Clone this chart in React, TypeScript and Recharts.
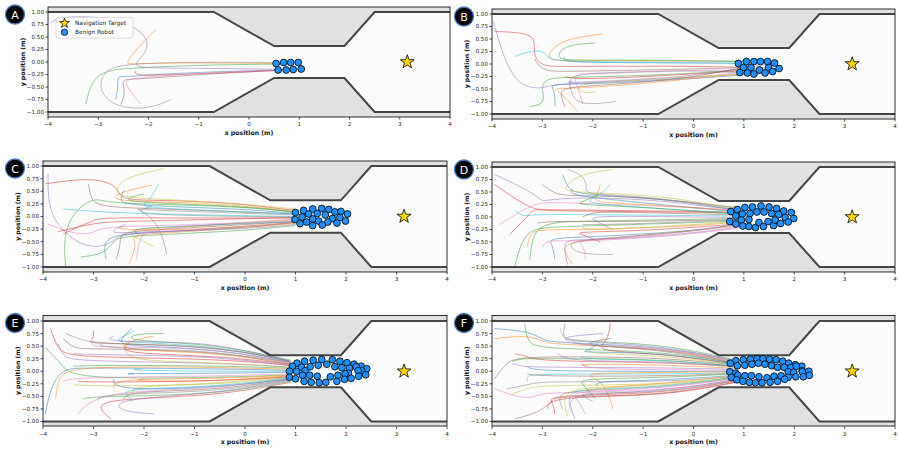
import React from "react";
import { ComposedChart, Area, Line, Scatter, XAxis, YAxis, CartesianGrid } from "recharts";

const tab10 = [
  "#1f77b4", "#ff7f0e", "#2ca02c", "#d62728", "#9467bd",
  "#8c564b", "#e377c2", "#7f7f7f", "#bcbd22", "#17becf",
];

// upper wall of the corridor; the lower wall is its mirror image
const wallX = [-4, -0.7, 0.5, 1.9, 2.5, 4];
const wallY = [1, 1, 0.32, 0.32, 1, 1];

const xTicks = [-4, -3, -2, -1, 0, 1, 2, 3, 4];
const yTicks = [-1, -0.75, -0.5, -0.25, 0, 0.25, 0.5, 0.75, 1];

const target = [3.15, 0];

// robot paths, flat x,y pairs
const trajA = [
  [-2.65, -0.75, -2.6, -0.45, -2.62, -0.28, -2.45, -0.3, -1.5, -0.22, 0.58, -0.16],
  [-1.85, 0.65, -2.2, 0.3, -2.45, -0.02, -2.4, -0.05, -1.5, -0.01, 0.54, -0.03],
  [-3.25, -0.85, -3.15, -0.45, -3.0, -0.25, -2.7, -0.15, -2.3, -0.12, -1.0, -0.06, 0.69, -0.04],
  [-2.25, -0.18, -2.3, -0.27, -1.5, -0.26, 0.74, -0.16],
  [-3.95, 0.78, -3.8, 0.9, -3.1, 0.92, -2.4, 0.8, -1.95, 0.45, -2.1, 0.1, -2.4, -0.12, -1.5, -0.12, 0.88, -0.15],
  [-2.55, -0.85, -2.45, -0.6, -2.55, -0.35, -2.35, -0.35, -1.0, -0.25, 0.72, -0.16],
  [-2.15, -0.85, -2.35, -0.6, -2.5, -0.38, -2.3, -0.32, -1.0, -0.22, 1.02, -0.14],
  [-1.55, -0.75, -2.0, -0.95, -2.7, -0.9, -3.0, -0.55, -2.9, -0.2, -2.6, -0.05, -1.5, 0.0, 0.83, -0.01],
];

const trajB = [
  [-2.55, 0.15, -2.6, 0.05, -2.0, 0.03, 0.0, 0.02, 0.89, 0.01],
  [-1.8, 0.6, -2.6, 0.5, -2.9, 0.2, -2.85, 0.05, -2.0, 0.07, 0.0, 0.06, 1.05, 0.05],
  [-1.95, 0.42, -2.6, 0.38, -2.75, 0.08, -2.3, 0.08, 0.0, 0.07, 1.2, 0.05],
  [-3.95, 0.65, -3.1, 0.62, -3.2, 0.25, -3.05, -0.05, -2.6, -0.05, 0.0, -0.04, 0.99, -0.07],
  [-3.97, 0.85, -3.75, 0.05, -3.45, -0.45, -3.0, -0.5, -2.8, -0.4, -1.5, -0.35, 0.0, -0.28, 0.92, -0.17],
  [-3.15, 0.1, -3.0, -0.15, -2.5, -0.15, 0.0, -0.1, 1.14, -0.07],
  [-2.2, -0.8, -2.3, -0.45, -2.4, -0.2, -2.0, -0.18, 0.0, -0.12, 1.31, -0.12],
  [-1.55, -0.75, -2.35, -0.85, -2.45, -0.45, -2.5, -0.2, -1.5, -0.18, 0.0, -0.12, 1.07, -0.18],
  [-1.95, -0.55, -2.2, -0.6, -2.4, -0.4, -1.5, -0.35, 0.0, -0.25, 1.2, -0.2],
  [-3.55, 0.15, -3.2, 0.28, -2.95, 0.25, -2.9, 0.1, -2.5, 0.04, 0.0, 0.03, 1.33, 0.05],
  [-2.75, -0.85, -2.75, -0.5, -2.9, -0.4, -2.0, -0.4, 0.0, -0.3, 1.42, -0.18],
  [-2.3, -0.95, -2.6, -0.6, -2.8, -0.47, -2.5, -0.5, -1.0, -0.4, 0.3, -0.25, 1.57, -0.15],
  [-3.25, -0.85, -2.95, -0.8, -3.0, -0.55, -3.0, -0.27, -2.3, -0.27, 0.0, -0.2, 1.49, -0.07],
  [-2.55, -0.25, -2.4, -0.3, -1.5, -0.28, 0.0, -0.2, 1.7, -0.09],
  [-2.4, -0.35, -2.6, -0.38, -1.5, -0.33, 0.0, -0.25, 1.61, 0.02],
  [-2.55, -0.85, -2.7, -0.5, -2.3, -0.45, 0.0, -0.3, 1.47, 0.05],
];

const trajC = [
  [-2.75, -0.85, -2.8, -0.6, -2.7, -0.35, -1.5, -0.3, 0.0, -0.22, 1.0, -0.12],
  [-1.85, 0.62, -2.4, 0.5, -2.6, 0.4, -2.55, 0.3, -1.0, 0.28, 0.3, 0.18, 1.0, 0.1],
  [-3.55, -1.0, -3.6, -0.4, -3.4, 0.1, -3.0, 0.37, -2.8, 0.3, -2.3, 0.25, 0.0, 0.2, 1.0, 0.08],
  [-3.95, 0.65, -3.0, 0.78, -2.5, 0.6, -2.5, 0.35, -2.0, 0.32, -0.5, 0.3, 1.0, 0.12],
  [-3.9, 0.85, -3.9, 0.2, -3.7, -0.2, -3.3, -0.55, -2.9, -0.62, -2.6, -0.5, -2.5, -0.35, -1.5, -0.3, 1.0, -0.12],
  [-3.1, 0.65, -3.05, 0.35, -2.9, 0.18, -1.5, 0.15, 1.0, 0.05],
  [-3.9, -0.15, -3.4, -0.35, -3.0, -0.35, -2.9, -0.2, -1.5, -0.18, 1.0, -0.08],
  [-1.55, -0.75, -1.65, -0.3, -1.9, 0.05, -2.2, 0.15, -2.0, 0.13, 1.0, 0.03],
  [-1.6, 0.95, -2.3, 0.8, -2.55, 0.6, -2.55, 0.4, -2.0, 0.36, 0.0, 0.25, 1.0, 0.15],
  [-1.7, 0.65, -1.9, 0.3, -2.1, 0.2, -1.5, 0.15, 1.0, 0.05],
  [-2.4, 0.52, -2.5, 0.3, -2.3, 0.22, 0.0, 0.15, 1.0, 0.06],
  [-2.3, -0.95, -2.2, -0.7, -2.15, -0.5, -2.3, -0.35, -1.0, -0.3, 1.0, -0.14],
  [-3.25, -0.8, -2.8, -0.75, -2.6, -0.5, -2.5, -0.4, -1.5, -0.35, 0.0, -0.28, 1.0, -0.18],
  [-3.6, -0.35, -3.2, -0.15, -3.0, -0.1, -2.95, -0.02, -1.5, -0.03, 1.0, -0.03],
  [-2.35, -0.15, -2.8, -0.35, -2.0, -0.3, 0.0, -0.25, 1.0, -0.16],
  [-2.55, -0.85, -2.45, -0.5, -2.5, -0.3, -1.5, -0.25, 1.0, -0.1],
  [-2.15, -0.85, -2.1, -0.5, -2.0, -0.3, -1.5, -0.22, 1.0, -0.05],
  [-1.85, 0.2, -2.2, 0.1, -1.7, 0.02, 1.0, -0.01],
  [-1.8, -0.6, -2.2, -0.4, -2.4, -0.25, -1.0, -0.2, 1.0, -0.06],
  [-3.6, 0.15, -3.0, 0.1, -2.0, 0.05, 1.0, 0.0],
  [-2.1, -0.35, -2.3, -0.25, -1.5, -0.2, 1.0, -0.1],
  [-2.45, -0.2, -2.6, -0.25, -1.5, -0.28, 0.0, -0.2, 1.0, -0.12],
  [-2.0, 0.45, -2.4, 0.35, -2.2, 0.28, 0.0, 0.2, 1.0, 0.09],
  [-3.7, -0.3, -2.95, -0.12, -2.5, -0.1, 1.0, -0.02],
];

const trajD = [
  [-2.6, 0.85, -2.5, 0.6, -2.35, 0.45, -1.0, 0.4, 0.2, 0.25, 0.9, 0.12],
  [-3.3, -0.6, -3.25, -0.3, -3.0, -0.25, -2.0, -0.25, 0.0, -0.18, 0.9, -0.1],
  [-3.55, -1.0, -3.45, -0.6, -3.3, -0.3, -3.0, -0.2, -2.0, -0.18, 0.9, -0.08],
  [-3.95, 0.65, -3.3, 0.2, -3.0, 0.12, -2.0, 0.12, 0.9, 0.08],
  [-3.95, 0.85, -3.2, 0.5, -3.0, 0.3, -2.9, 0.35, -2.0, 0.4, -0.5, 0.32, 0.3, 0.2, 0.9, 0.15],
  [-3.0, 0.65, -2.8, 0.5, -2.6, 0.42, -1.5, 0.42, 0.0, 0.3, 0.9, 0.18],
  [-3.85, -0.15, -3.3, 0.2, -3.0, 0.3, -2.5, 0.28, 0.0, 0.2, 0.9, 0.12],
  [-2.5, 0.95, -2.2, 0.85, -2.1, 0.6, -2.2, 0.45, -1.0, 0.42, 0.2, 0.25, 0.9, 0.16],
  [-1.6, 0.95, -2.3, 0.85, -2.55, 0.6, -2.55, 0.5, -1.5, 0.47, -0.3, 0.38, 0.4, 0.22, 0.9, 0.2],
  [-3.55, 0.15, -3.4, 0.0, -3.2, 0.05, -2.5, 0.05, 0.9, 0.02],
  [-2.75, -0.85, -2.8, -0.55, -2.9, -0.42, -2.0, -0.4, 0.0, -0.28, 0.9, -0.15],
  [-2.4, -0.95, -2.6, -0.65, -2.5, -0.5, -1.5, -0.42, 0.2, -0.25, 0.9, -0.18],
  [-3.25, -0.85, -3.2, -0.4, -3.0, -0.1, -2.0, -0.08, 0.9, -0.03],
  [-3.65, -0.35, -3.3, 0.0, -3.2, 0.15, -3.0, 0.15, 0.9, 0.1],
  [-1.6, -0.25, -1.9, -0.1, -2.1, 0.0, -1.5, 0.02, 0.9, -0.01],
  [-2.2, 0.0, -2.0, 0.1, -1.5, 0.1, 0.9, 0.04],
  [-2.15, -0.85, -2.15, -0.6, -2.4, -0.45, -1.0, -0.4, 0.2, -0.25, 0.9, -0.16],
  [-1.6, -0.75, -2.3, -0.75, -2.5, -0.55, -2.3, -0.45, 0.0, -0.3, 0.9, -0.12],
  [-2.2, -0.2, -2.2, -0.25, -1.5, -0.25, 0.9, -0.09],
  [-1.65, 0.65, -1.9, 0.4, -2.2, 0.3, -1.5, 0.22, 0.9, 0.07],
  [-2.4, 0.55, -2.5, 0.45, -1.5, 0.33, 0.9, 0.1],
  [-1.85, 0.65, -1.9, 0.45, -2.0, 0.3, -1.5, 0.28, 0.9, 0.13],
  [-1.9, 0.45, -2.2, 0.3, -2.4, 0.25, -1.0, 0.2, 0.9, 0.05],
  [-1.85, -0.5, -2.2, -0.35, -2.4, -0.3, -1.0, -0.28, 0.9, -0.14],
  [-2.5, -0.95, -2.6, -0.5, -2.4, -0.45, -1.5, -0.45, 0.2, -0.3, 0.9, -0.2],
  [-3.1, -0.12, -2.8, -0.08, -1.5, -0.1, 0.9, -0.05],
  [-3.0, -0.6, -2.9, -0.45, -2.5, -0.5, -0.5, -0.4, 0.9, -0.22],
  [-2.2, -0.15, -1.5, -0.15, 0.9, -0.06],
];

const trajE = [
  [-3.95, -0.85, -3.85, -0.3, -3.6, 0.05, -3.3, 0.07, -0.6, 0.05, 0.9, 0.02],
  [-3.75, -0.55, -3.7, -0.1, -3.4, 0.1, -0.6, 0.08, 0.9, 0.04],
  [-3.95, 0.47, -3.6, 0.1, -3.4, -0.15, -0.6, -0.13, 0.9, -0.07],
  [-3.85, 0.85, -3.7, 0.4, -3.4, 0.28, -0.6, 0.25, 0.9, 0.12],
  [-3.7, 0.55, -3.6, 0.3, -3.4, 0.2, -0.6, 0.17, 0.9, 0.08],
  [-3.6, 0.65, -3.4, 0.45, -3.1, 0.45, -0.6, 0.4, 0.9, 0.17],
  [-3.6, -0.2, -3.4, -0.12, -0.6, -0.1, 0.9, -0.05],
  [-3.55, 0.75, -3.3, 0.65, -3.0, 0.55, -0.6, 0.5, 0.9, 0.2],
  [-3.4, -0.25, -3.3, -0.3, -0.6, -0.28, 0.9, -0.12],
  [-2.2, 0.8, -2.5, 0.65, -2.6, 0.58, -0.6, 0.52, 0.9, 0.2],
  [-2.25, 0.85, -2.5, 0.6, -2.4, 0.5, -0.6, 0.45, 0.9, 0.18],
  [-1.8, 0.7, -2.3, 0.6, -2.6, 0.42, -0.6, 0.38, 0.9, 0.15],
  [-1.6, 0.75, -2.2, 0.75, -2.4, 0.6, -0.6, 0.55, 0.9, 0.22],
  [-2.3, 0.55, -2.45, 0.45, -2.2, 0.35, -0.5, 0.3, 0.9, 0.14],
  [-2.6, 0.7, -2.8, 0.6, -1.5, 0.58, -0.6, 0.55, 0.9, 0.21],
  [-3.0, 0.8, -3.0, 0.6, -3.2, 0.55, -0.6, 0.52, 0.9, 0.19],
  [-3.0, 0.6, -3.1, 0.5, -2.5, 0.48, -0.6, 0.46, 0.9, 0.16],
  [-2.85, 0.55, -2.9, 0.48, -1.5, 0.42, -0.6, 0.4, 0.9, 0.13],
  [-2.3, 0.6, -2.5, 0.2, -0.6, 0.18, 0.9, 0.08],
  [-2.05, 0.05, -2.4, 0.02, -0.6, 0.0, 0.9, 0.0],
  [-2.2, -0.05, -2.5, -0.05, -0.6, -0.04, 0.9, -0.02],
  [-2.6, -0.35, -2.6, -0.15, -0.6, -0.15, 0.9, -0.08],
  [-3.2, -0.55, -3.0, -0.5, -0.6, -0.47, 0.9, -0.2],
  [-2.65, -0.95, -2.9, -0.75, -2.8, -0.55, -0.6, -0.5, 0.9, -0.22],
  [-1.8, -0.85, -2.5, -0.8, -2.6, -0.55, -0.6, -0.45, 0.9, -0.18],
  [-2.4, -0.55, -2.3, -0.4, -0.6, -0.38, 0.9, -0.16],
  [-3.3, -0.85, -3.2, -0.7, -2.7, -0.4, -0.6, -0.35, 0.9, -0.14],
  [-2.9, -0.6, -2.95, -0.45, -0.6, -0.42, 0.9, -0.17],
  [-2.2, -0.45, -2.3, -0.3, -0.6, -0.25, 0.9, -0.1],
  [-2.2, -0.6, -2.4, -0.45, -2.3, -0.35, -0.5, -0.3, 0.9, -0.13],
  [-2.6, -0.15, -2.6, -0.38, -0.6, -0.33, 0.9, -0.15],
  [-2.0, -0.15, -2.3, -0.2, -0.6, -0.2, 0.9, -0.09],
  [-3.4, 0.1, -3.0, 0.12, -0.6, 0.11, 0.9, 0.06],
  [-3.3, -0.2, -3.0, -0.22, -0.6, -0.2, 0.9, -0.11],
  [-3.4, 0.35, -3.0, 0.33, -0.6, 0.3, 0.9, 0.11],
];

const trajF = [
  [-3.95, 0.85, -3.3, 0.8, -3.0, 0.65, -2.9, 0.57, -0.6, 0.5, 0.85, 0.2],
  [-3.95, 0.65, -3.3, 0.72, -3.0, 0.6, -2.8, 0.53, -0.6, 0.47, 0.85, 0.18],
  [-3.35, 0.95, -3.3, 0.55, -3.0, 0.45, -0.6, 0.4, 0.85, 0.16],
  [-3.55, 0.35, -3.3, 0.3, -3.1, 0.2, -0.6, 0.18, 0.85, 0.1],
  [-3.6, 0.15, -3.4, 0.1, -3.2, 0.08, -0.6, 0.07, 0.85, 0.04],
  [-3.95, -0.15, -3.7, 0.2, -3.4, 0.3, -0.6, 0.28, 0.85, 0.12],
  [-3.95, -0.35, -3.4, -0.55, -3.1, -0.5, -3.0, -0.42, -0.6, -0.4, 0.85, -0.17],
  [-3.7, -0.35, -3.2, -0.25, -3.0, -0.2, -0.6, -0.22, 0.85, -0.1],
  [-3.6, -0.45, -3.3, -0.35, -3.1, -0.28, -0.6, -0.27, 0.85, -0.12],
  [-3.3, -0.2, -3.3, -0.1, -3.2, -0.05, -0.6, -0.06, 0.85, -0.03],
  [-3.3, 0.1, -3.2, 0.0, -0.6, 0.0, 0.85, 0.0],
  [-1.6, -0.75, -1.7, -0.4, -1.9, -0.15, -2.2, -0.05, -1.5, -0.03, 0.85, -0.01],
  [-2.55, 0.95, -2.6, 0.7, -2.5, 0.6, -0.6, 0.55, 0.85, 0.22],
  [-1.65, 0.95, -1.7, 0.6, -2.0, 0.4, -0.6, 0.35, 0.85, 0.14],
  [-1.8, 0.75, -2.5, 0.7, -2.7, 0.6, -0.6, 0.52, 0.85, 0.2],
  [-1.65, 0.65, -2.0, 0.6, -2.2, 0.5, -0.6, 0.45, 0.85, 0.17],
  [-2.65, 0.85, -2.55, 0.6, -2.3, 0.52, -0.6, 0.48, 0.85, 0.19],
  [-2.4, 0.6, -2.3, 0.52, -0.6, 0.43, 0.85, 0.15],
  [-2.0, 0.45, -2.2, 0.35, -0.6, 0.32, 0.85, 0.13],
  [-2.2, 0.3, -2.3, 0.25, -0.6, 0.22, 0.85, 0.11],
  [-1.9, 0.55, -2.1, 0.4, -2.3, 0.38, -0.6, 0.37, 0.85, 0.14],
  [-2.1, 0.1, -2.4, 0.15, -0.6, 0.13, 0.85, 0.06],
  [-1.95, -0.55, -2.2, -0.25, -2.3, -0.15, -0.6, -0.13, 0.85, -0.05],
  [-2.75, -0.85, -2.8, -0.6, -2.9, -0.48, -0.6, -0.45, 0.85, -0.19],
  [-2.35, -0.95, -2.5, -0.6, -2.3, -0.45, -0.6, -0.4, 0.85, -0.16],
  [-3.55, -0.95, -3.0, -0.8, -2.8, -0.55, -2.6, -0.5, -0.6, -0.48, 0.85, -0.21],
  [-2.15, -0.85, -2.3, -0.55, -2.5, -0.4, -0.6, -0.35, 0.85, -0.14],
  [-2.6, -0.75, -2.7, -0.5, -2.5, -0.38, -0.6, -0.33, 0.85, -0.13],
  [-2.5, -0.9, -2.6, -0.55, -2.4, -0.3, -0.6, -0.3, 0.85, -0.12],
  [-2.45, -0.75, -2.5, -0.45, -2.2, -0.35, -0.6, -0.32, 0.85, -0.11],
  [-1.9, -0.3, -2.0, -0.2, -0.6, -0.18, 0.85, -0.08],
  [-2.1, -0.45, -2.2, -0.35, -0.6, -0.25, 0.85, -0.09],
  [-3.6, 0.2, -3.4, 0.25, -3.2, 0.25, -0.6, 0.25, 0.85, 0.09],
  [-2.9, -0.75, -2.85, -0.5, -0.6, -0.5, 0.85, -0.22],
  [-2.7, 0.35, -2.5, 0.2, -0.6, 0.2, 0.85, 0.08],
  [-3.3, -0.05, -3.1, -0.1, -0.6, -0.1, 0.85, -0.04],
  [-2.2, 0.2, -2.3, 0.05, -0.6, 0.03, 0.85, 0.02],
  [-2.0, -0.6, -2.2, -0.5, -2.3, -0.43, -0.6, -0.43, 0.85, -0.18],
];

// final robot positions
const robotsA = [
  [0.54, -0.03], [0.69, -0.01], [0.83, -0.01], [0.98, -0.01],
  [0.58, -0.16], [0.74, -0.16], [0.88, -0.15], [1.04, -0.14],
];

const robotsB = [
  [0.89, 0.01], [1.05, 0.05], [1.2, 0.05], [1.33, 0.05], [1.47, 0.05], [1.61, 0.02],
  [0.99, -0.07], [1.14, -0.07], [1.31, -0.12], [1.49, -0.07], [1.7, -0.09],
  [0.92, -0.17], [1.07, -0.18], [1.2, -0.2], [1.42, -0.18], [1.57, -0.15],
];

const robotsC = [
  [1.0, 0.08], [1.16, 0.12], [1.34, 0.15], [1.52, 0.16], [1.66, 0.14], [1.78, 0.09], [1.9, 0.1], [2.03, 0.05],
  [0.99, -0.06], [1.13, -0.01], [1.26, 0.05], [1.43, 0.06], [1.59, 0.03], [1.73, -0.04], [1.88, -0.02], [1.99, -0.09],
  [1.09, -0.14], [1.22, -0.11], [1.34, -0.05], [1.46, -0.09], [1.64, -0.11], [1.82, -0.13], [1.34, -0.18], [1.53, -0.17],
];

const robotsD = [
  [0.74, 0.11], [0.87, 0.15], [1.02, 0.19], [1.17, 0.2], [1.34, 0.22], [1.5, 0.2], [1.65, 0.17], [1.79, 0.12], [1.94, 0.09],
  [0.84, 0.02], [0.97, 0.06], [1.12, 0.07], [1.26, 0.1], [1.4, 0.1], [1.55, 0.07], [1.69, 0.05], [1.82, -0.01], [1.99, -0.03],
  [0.72, -0.09], [0.84, -0.14], [0.95, -0.06], [0.98, -0.18], [1.1, -0.05], [1.1, -0.19], [1.23, -0.21], [1.3, -0.11],
  [1.39, -0.19], [1.48, -0.09], [1.59, -0.17], [1.62, -0.06], [1.73, -0.13], [1.88, -0.1],
];

const robotsE = [
  [1.03, 0.16], [1.18, 0.2], [1.35, 0.22], [1.52, 0.235], [1.73, 0.23], [1.88, 0.2], [2.02, 0.17], [2.16, 0.14], [2.3, 0.1], [2.41, 0.05],
  [0.94, 0.1], [1.12, 0.08], [1.29, 0.09], [1.45, 0.12], [1.62, 0.14], [1.78, 0.09], [1.92, 0.07], [2.07, 0.06], [2.2, 0.09], [2.31, 0.01],
  [0.88, 0.0], [1.02, 0.0], [1.19, 0.01], [2.05, -0.04], [2.24, 0.01], [2.39, -0.07],
  [0.88, -0.12], [1.0, -0.15], [1.14, -0.08], [1.28, -0.08], [1.43, -0.1], [1.69, -0.11], [1.84, -0.08], [1.98, -0.05], [2.1, -0.14], [2.25, -0.1],
  [1.17, -0.2], [1.31, -0.22], [1.47, -0.23], [1.6, -0.22], [1.82, -0.2], [1.97, -0.16],
];

const robotsF = [
  [0.84, 0.21], [0.99, 0.23], [1.13, 0.24], [1.26, 0.25], [1.38, 0.25], [1.51, 0.24], [1.64, 0.23], [1.77, 0.2], [1.89, 0.16], [2.02, 0.13], [2.15, 0.1],
  [0.73, 0.16], [0.87, 0.11], [1.02, 0.12], [1.16, 0.14], [1.29, 0.16], [1.42, 0.14], [1.55, 0.11], [1.67, 0.08], [1.8, 0.08], [1.93, 0.07], [2.04, 0.1], [2.16, 0.01],
  [0.72, -0.01], [0.84, -0.04], [1.88, -0.01], [1.99, -0.02], [2.16, -0.01], [2.29, 0.0],
  [0.75, -0.12], [0.88, -0.08], [1.02, -0.09], [1.15, -0.09], [1.3, -0.11], [1.46, -0.13], [1.6, -0.1], [1.74, -0.09], [1.88, -0.12], [2.03, -0.11], [2.18, -0.11], [2.3, -0.08],
  [0.86, -0.17], [0.98, -0.2], [1.11, -0.22], [1.23, -0.23], [1.36, -0.23], [1.52, -0.22], [1.67, -0.2], [1.81, -0.16],
];

const wallRows = wallX.map((x, i) => ({
  x,
  hi: [wallY[i], 1.1],
  lo: [-1.1, -wallY[i]],
  top: wallY[i],
  bot: -wallY[i],
}));

const toPts = (flat: number[]) => {
  const pts: { x: number; y: number }[] = [];
  for (let i = 0; i < flat.length; i += 2) pts.push({ x: flat[i], y: flat[i + 1] });
  return pts;
};

const minus = (s: string) => s.replace("-", "\u2212");
const fmtX = (v: number) => minus(String(v));
const fmtY = (v: number) => minus(v.toFixed(2));

const FONT = "DejaVu Sans";
const tickStyle = { fontSize: 5.6, fill: "#262626", fontFamily: FONT };

function starPath(cx: number, cy: number, R: number, r: number) {
  let d = "";
  for (let k = 0; k < 10; k++) {
    const rad = k % 2 === 0 ? R : r;
    const a = -Math.PI / 2 + (k * Math.PI) / 5;
    d += (k === 0 ? "M" : "L") + (cx + rad * Math.cos(a)).toFixed(2) + "," + (cy + rad * Math.sin(a)).toFixed(2);
  }
  return d + "Z";
}

const RobotDot = (p: any) => (
  <circle cx={p.cx} cy={p.cy} r={3.4} fill="#1e90ff" stroke="#000" strokeWidth={0.8} />
);
const StarMark = (p: any) => (
  <path d={starPath(p.cx, p.cy, 7.3, 2.9)} fill="#ffd700" stroke="#000" strokeWidth={0.8} />
);

type Box = [number, number, number, number];

const panels: { id: string; box: Box; traj: number[][]; robots: number[][] }[] = [
  { id: "A", box: [48, 7, 450, 117], traj: trajA, robots: robotsA },
  { id: "B", box: [492, 9, 895, 119], traj: trajB, robots: robotsB },
  { id: "C", box: [43, 161, 447, 272], traj: trajC, robots: robotsC },
  { id: "D", box: [492, 162, 895, 272], traj: trajD, robots: robotsD },
  { id: "E", box: [43, 315.5, 447, 426], traj: trajE, robots: robotsE },
  { id: "F", box: [492, 315.5, 895, 426], traj: trajF, robots: robotsF },
];

const YW = 38;
const ML = 2;
const MR = 4;
const MT = 4;
const XH = 22;
const MB = 2;

function Panel({ box, traj, robots }: { box: Box; traj: number[][]; robots: number[][] }) {
  const [pl, pt, pr, pb] = box;
  const width = pr - pl + YW + ML + MR;
  const height = pb - pt + MT + XH + MB;
  const robotPts = robots.map(([x, y]) => ({ x, y }));
  return (
    <div style={{ position: "absolute", left: pl - YW - ML, top: pt - MT }}>
      <ComposedChart
        width={width}
        height={height}
        data={wallRows}
        margin={{ top: MT, right: MR, bottom: MB, left: ML }}
      >
        <CartesianGrid horizontal={false} vertical={false} fill="#fcfcfc" />
        <XAxis
          type="number"
          dataKey="x"
          domain={[-4, 4]}
          ticks={xTicks}
          allowDataOverflow
          height={XH}
          tick={tickStyle}
          tickFormatter={fmtX}
          tickSize={2.5}
          tickMargin={3}
          tickLine={{ stroke: "#000", strokeWidth: 0.7 }}
          axisLine={false}
        />
        <YAxis
          type="number"
          dataKey="y"
          domain={[-1.1, 1.1]}
          ticks={yTicks}
          allowDataOverflow
          width={YW}
          tick={tickStyle}
          tickFormatter={fmtY}
          tickSize={2.5}
          tickMargin={1.5}
          tickLine={{ stroke: "#000", strokeWidth: 0.7 }}
          axisLine={false}
        />
        <Area dataKey="hi" type="linear" fill="#e1e1e1" fillOpacity={1} stroke="none" isAnimationActive={false} />
        <Area dataKey="lo" type="linear" fill="#e1e1e1" fillOpacity={1} stroke="none" isAnimationActive={false} />
        {traj.map((t, i) => (
          <Line
            key={"t" + i}
            data={toPts(t)}
            dataKey="y"
            type="basis"
            stroke={tab10[i % 10]}
            strokeOpacity={0.5}
            strokeWidth={1}
            dot={false}
            activeDot={false}
            isAnimationActive={false}
          />
        ))}
        <Line dataKey="top" type="linear" stroke="#454545" strokeWidth={2} dot={false} activeDot={false} isAnimationActive={false} />
        <Line dataKey="bot" type="linear" stroke="#454545" strokeWidth={2} dot={false} activeDot={false} isAnimationActive={false} />
        <Scatter data={robotPts} dataKey="y" shape={RobotDot} isAnimationActive={false} />
        <Scatter data={[{ x: target[0], y: target[1] }]} dataKey="y" shape={StarMark} isAnimationActive={false} />
      </ComposedChart>
    </div>
  );
}

function Overlay() {
  return (
    <svg
      width={899}
      height={450}
      style={{ position: "absolute", left: 0, top: 0, pointerEvents: "none" }}
    >
      {panels.map(({ id, box }) => {
        const [pl, pt, pr, pb] = box;
        const cy = (pt + pb) / 2;
        const bx = pl < 100 ? 15 : 464;
        const by = pt + 7.5;
        return (
          <g key={id}>
            {/* axes frame */}
            <rect x={pl} y={pt} width={pr - pl} height={pb - pt} fill="none" stroke="#1a1a1a" strokeWidth={0.9} />
            <text
              x={(pl + pr) / 2}
              y={pb + 17.5}
              textAnchor="middle"
              fontFamily={FONT}
              fontWeight="bold"
              fontSize={6.2}
              fill="#111"
            >
              x position (m)
            </text>
            <text
              x={pl - 23}
              y={cy}
              textAnchor="middle"
              transform={`rotate(-90 ${pl - 23} ${cy})`}
              fontFamily={FONT}
              fontWeight="bold"
              fontSize={6.2}
              fill="#111"
            >
              y position (m)
            </text>
            <circle cx={bx} cy={by} r={9.5} fill="#000" stroke="#4a78c0" strokeWidth={1.3} />
            <text
              x={bx}
              y={by + 4}
              textAnchor="middle"
              fontFamily={FONT}
              fontSize={11}
              fill="#fff"
            >
              {id}
            </text>
          </g>
        );
      })}
      <g>
        <rect x={56} y={17.5} width={77} height={20.5} rx={2} fill="#fff" fillOpacity={0.85} stroke="#cfcfcf" strokeWidth={0.7} />
        <path d={starPath(64.5, 23.2, 5.2, 2.1)} fill="#ffd700" stroke="#000" strokeWidth={0.7} />
        <text x={75} y={25} fontFamily={FONT} fontSize={5.8} fill="#222">
          Navigation Target
        </text>
        <circle cx={64.5} cy={32.3} r={3.2} fill="#1e90ff" stroke="#000" strokeWidth={0.7} />
        <text x={75} y={34.3} fontFamily={FONT} fontSize={5.8} fill="#222">
          Benign Robot
        </text>
      </g>
    </svg>
  );
}

export default function App() {
  return (
    <div style={{ position: "absolute", left: 0, top: 0, width: 899, height: 450, background: "#fff", overflow: "hidden" }}>
      {panels.map((p) => (
        <Panel key={p.id} box={p.box} traj={p.traj} robots={p.robots} />
      ))}
      <Overlay />
    </div>
  );
}
